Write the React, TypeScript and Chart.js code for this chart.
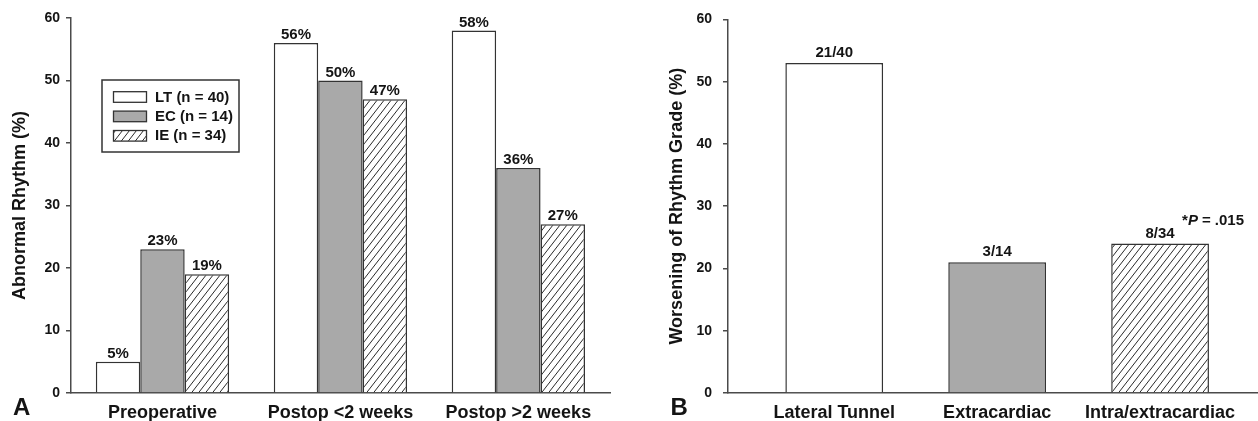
import React, { useEffect, useRef } from "react";
import { Chart, registerables } from "chart.js";

Chart.register(...registerables);

const FONT = "'Liberation Sans', Arial, Helvetica, sans-serif";
const TEXT = "#141414";
const AXIS = "#4a4a4a";
const EDGE = "#333333";
const GRAY = "#a9a9a9";

// ---- Panel A data ----
const panelACategories = ["Preoperative", "Postop <2 weeks", "Postop >2 weeks"];
const panelASeries = ["LT (n = 40)", "EC (n = 14)", "IE (n = 34)"];
const ltValues = [5, 56, 58];
const ecValues = [23, 50, 36];
const ieValues = [19, 47, 27];
const panelATitle = "Abnormal Rhythm (%)";

// ---- Panel B data ----
const panelBCategories = ["Lateral Tunnel", "Extracardiac", "Intra/extracardiac"];
const panelBValues = [53, 21, 24];
const panelBCounts = ["21/40", "3/14", "8/34"];
const panelBTitle = "Worsening of Rhythm Grade (%)";
const panelBNote = "= .015";

const yTickValues = [0, 10, 20, 30, 40, 50, 60];

function makeHatch(): CanvasPattern | string {
  const w = 7;
  const h = 9;
  const c = document.createElement("canvas");
  c.width = w;
  c.height = h;
  const ctx = c.getContext("2d");
  if (!ctx) return "#ffffff";
  ctx.fillStyle = "#ffffff";
  ctx.fillRect(0, 0, w, h);
  ctx.strokeStyle = "#2a2a2a";
  ctx.lineWidth = 1;
  for (const dx of [-w, 0, w]) {
    ctx.beginPath();
    ctx.moveTo(dx, h);
    ctx.lineTo(dx + w, 0);
    ctx.stroke();
  }
  return ctx.createPattern(c, "repeat") || "#ffffff";
}

function yScale(title: string, titlePad: number, width: number, tickPad: number) {
  return {
    type: "linear",
    min: 0,
    max: 60,
    afterBuildTicks: (s: any) => {
      s.ticks = yTickValues.map((v) => ({ value: v }));
    },
    ticks: {
      color: TEXT,
      padding: tickPad,
      font: { family: FONT, size: 14, weight: "bold" },
    },
    grid: {
      display: true,
      drawOnChartArea: false,
      drawTicks: true,
      tickLength: 5,
      color: AXIS,
      lineWidth: 1.5,
    },
    border: { display: true, color: AXIS, width: 1.5 },
    title: {
      display: true,
      text: title,
      color: TEXT,
      font: { family: FONT, size: 18, weight: "bold" },
      padding: { top: titlePad, bottom: 0 },
    },
    afterFit: (s: any) => {
      s.width = width;
    },
  };
}

function xScale(cats: string[], min: number, max: number, pad: number) {
  return {
    type: "linear",
    min,
    max,
    bounds: "data",
    offset: false,
    afterBuildTicks: (s: any) => {
      s.ticks = cats.map((_, i) => ({ value: i }));
    },
    ticks: {
      autoSkip: false,
      maxRotation: 0,
      minRotation: 0,
      padding: pad,
      color: TEXT,
      font: { family: FONT, size: 18, weight: "bold" },
      callback: (v: any) => cats[Math.round(Number(v))] ?? "",
    },
    grid: { display: false, drawTicks: false },
    border: { display: true, color: AXIS, width: 1.5 },
    afterFit: (s: any) => {
      s.height = 28;
    },
  };
}

function valueLabelPlugin(labelFor: (di: number, i: number) => string, gap: number) {
  return {
    id: "valueLabels",
    afterDatasetsDraw(chart: any) {
      const ctx = chart.ctx;
      ctx.save();
      ctx.font = `bold 15px ${FONT}`;
      ctx.fillStyle = TEXT;
      ctx.textAlign = "center";
      ctx.textBaseline = "alphabetic";
      chart.data.datasets.forEach((_: any, di: number) => {
        chart.getDatasetMeta(di).data.forEach((el: any, i: number) => {
          ctx.fillText(labelFor(di, i), el.x, el.y - gap);
        });
      });
      ctx.restore();
    },
  };
}

function panelLetterPlugin(letter: string, x: number, y: number) {
  return {
    id: "panelLetter",
    afterDraw(chart: any) {
      const ctx = chart.ctx;
      ctx.save();
      ctx.font = `bold 24px ${FONT}`;
      ctx.fillStyle = TEXT;
      ctx.textAlign = "left";
      ctx.textBaseline = "alphabetic";
      ctx.fillText(letter, x, y);
      ctx.restore();
    },
  };
}

const legendBoxPlugin = {
  id: "legendBox",
  afterDraw(chart: any) {
    const ctx = chart.ctx;
    const bx = 102;
    const by = 80;
    const bw = 137;
    const bh = 72;
    ctx.save();
    ctx.strokeStyle = EDGE;
    ctx.lineWidth = 1.5;
    ctx.strokeRect(bx, by, bw, bh);
    ctx.font = `bold 15px ${FONT}`;
    ctx.textAlign = "left";
    ctx.textBaseline = "middle";
    chart.data.datasets.forEach((ds: any, i: number) => {
      const cy = 97 + i * 19.4;
      ctx.fillStyle = ds.backgroundColor;
      ctx.fillRect(113.5, cy - 5.3, 33, 10.6);
      ctx.strokeStyle = EDGE;
      ctx.lineWidth = 1.3;
      ctx.strokeRect(113.5, cy - 5.3, 33, 10.6);
      ctx.fillStyle = TEXT;
      ctx.fillText(ds.label, 155, cy + 0.5);
    });
    ctx.restore();
  },
};

const pNotePlugin = {
  id: "pNote",
  afterDatasetsDraw(chart: any) {
    const el = chart.getDatasetMeta(0).data[2];
    if (!el) return;
    const ctx = chart.ctx;
    let x = el.x + 22;
    const y = el.y - 19;
    ctx.save();
    ctx.fillStyle = TEXT;
    ctx.textAlign = "left";
    ctx.textBaseline = "alphabetic";
    ctx.font = `bold 15px ${FONT}`;
    ctx.fillText("*", x, y);
    x += ctx.measureText("*").width;
    ctx.font = `italic bold 15px ${FONT}`;
    ctx.fillText("P", x, y);
    x += ctx.measureText("P").width + 4;
    ctx.font = `bold 15px ${FONT}`;
    ctx.fillText(panelBNote, x, y);
    ctx.restore();
  },
};

export default function App() {
  const refA = useRef<HTMLCanvasElement>(null);
  const refB = useRef<HTMLCanvasElement>(null);

  useEffect(() => {
    document.body.style.margin = "0";
    document.body.style.background = "#ffffff";
    const hatch = makeHatch();
    const toXY = (vals: number[]) => vals.map((v, i) => ({ x: i, y: v }));
    const seriesValues = [ltValues, ecValues, ieValues];
    const fills: any[] = ["#ffffff", GRAY, hatch];

    const chartA = new Chart(refA.current as HTMLCanvasElement, {
      type: "bar",
      data: {
        datasets: panelASeries.map((label, di) => ({
          label,
          data: toXY(seriesValues[di]),
          backgroundColor: fills[di],
          borderColor: EDGE,
          borderWidth: 1.5,
          categoryPercentage: 0.749,
          barPercentage: 1,
        })),
      } as any,
      options: {
        responsive: false,
        animation: false,
        events: [],
        layout: { padding: { left: 0, right: 30, top: 18, bottom: 0 } },
        plugins: { legend: { display: false }, tooltip: { enabled: false } },
        scales: {
          x: xScale(panelACategories, -0.514, 2.515, 9),
          y: yScale(panelATitle, 9, 71, 6),
        } as any,
      },
      plugins: [
        valueLabelPlugin((di, i) => `${seriesValues[di][i]}%`, 4),
        legendBoxPlugin,
        panelLetterPlugin("A", 13, 415),
      ],
    });

    const chartB = new Chart(refB.current as HTMLCanvasElement, {
      type: "bar",
      data: {
        datasets: [
          {
            label: "Worsening",
            data: toXY(panelBValues),
            backgroundColor: fills,
            borderColor: EDGE,
            borderWidth: 1.5,
            categoryPercentage: 0.6,
            barPercentage: 1,
          },
        ],
      } as any,
      options: {
        responsive: false,
        animation: false,
        events: [],
        layout: { padding: { left: 0, right: 0, top: 17, bottom: 0 } },
        plugins: { legend: { display: false }, tooltip: { enabled: false } },
        scales: {
          x: xScale(panelBCategories, -0.652, 2.601, 9),
          y: yScale(panelBTitle, 26, 88, 11),
        } as any,
      },
      plugins: [
        valueLabelPlugin((_di, i) => panelBCounts[i], 6),
        pNotePlugin,
        panelLetterPlugin("B", 30.5, 415),
      ],
    });

    return () => {
      chartA.destroy();
      chartB.destroy();
    };
  }, []);

  return (
    <div style={{ position: "relative", width: 1258, height: 421, background: "#ffffff" }}>
      <canvas
        ref={refA}
        width={640}
        height={421}
        style={{ position: "absolute", left: 0, top: 0, display: "block" }}
      />
      <canvas
        ref={refB}
        width={618}
        height={421}
        style={{ position: "absolute", left: 640, top: 0, display: "block" }}
      />
    </div>
  );
}
